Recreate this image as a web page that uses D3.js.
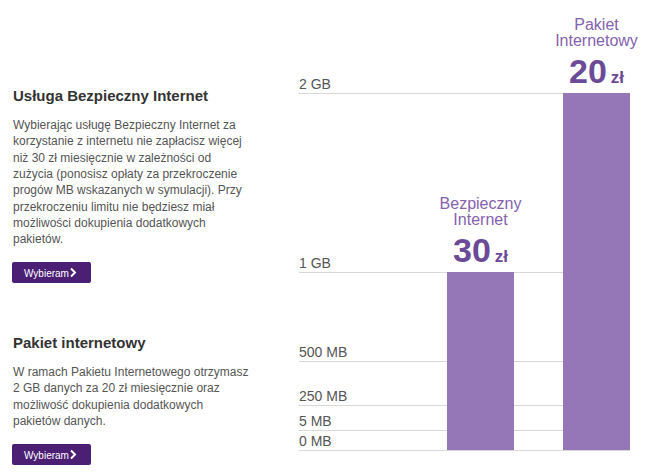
<!DOCTYPE html>
<html><head><meta charset="utf-8">
<script src="https://cdn.jsdelivr.net/npm/d3@7"></script>
<style>body{margin:0;background:#fff;font-family:"Liberation Sans",Arial,sans-serif}</style>
</head><body><svg id="c" width="650" height="476"></svg>
<script>
// data
const tickValues = [0, 5, 250, 500, 1024, 2048];
const tickLabels = ["0 MB", "5 MB", "250 MB", "500 MB", "1 GB", "2 GB"];
const plans = [["Bezpieczny", "Internet"], ["Pakiet", "Internetowy"]];
const prices = ["30", "20"];
const limits = [1024, 2048];

const svg = d3.select("#c");

// piecewise scale, as the original axis is not linear
const y = d3.scaleLinear().domain(tickValues).range([450, 430, 405, 361, 272, 93]);
const x = d3.scaleBand().domain([0, 1]).range([398, 680]).paddingInner(0.42).paddingOuter(0);

svg.selectAll(".grid").data(tickValues).enter().append("line")
        .attr("x1", 299).attr("x2", 630)
        .attr("y1", d => y(d) + 0.5).attr("y2", d => y(d) + 0.5)
        .attr("stroke", "#d8d8d8").attr("stroke-width", 1);

svg.selectAll(".tlab").data(tickValues).enter().append("text")
        .attr("x", 299).attr("y", d => y(d) - 4)
        .attr("font-size", "14px").attr("fill", "#555")
        .text((d, i) => tickLabels[i]);

const bx = i => 447 + i * 116;
svg.selectAll(".bar").data(limits).enter().append("rect")
        .attr("x", (d, i) => bx(i)).attr("width", 67)
        .attr("y", d => y(d)).attr("height", d => y(0) - y(d))
        .attr("fill", "#9577b8");

limits.forEach((d, i) => {
        const cx = bx(i) + 33.5, top = y(d);
        plans[i].forEach((t, j) => {
                svg.append("text").attr("x", cx).attr("y", top - 63 + j * 16)
                        .attr("text-anchor", "middle").attr("font-size", "16px")
                        .attr("fill", "#8462ad").text(t);
        });
        const p = svg.append("text").attr("x", cx).attr("y", top - 10)
                .attr("text-anchor", "middle").attr("fill", "#6b4a98").attr("font-weight", "bold");
        p.append("tspan").attr("font-size", "34px").text(prices[i]);
        p.append("tspan").attr("font-size", "17px").attr("dx", 4).text("zł");
});

// left side text blocks
const blocks = [
        {title: "Usługa Bezpieczny Internet", y: 101, lines: [
                "Wybierając usługę Bezpieczny Internet za",
                "korzystanie z internetu nie zapłacisz więcej",
                "niż 30 zł miesięcznie w zależności od",
                "zużycia (ponosisz opłaty za przekroczenie",
                "progów MB wskazanych w symulacji). Przy",
                "przekroczeniu limitu nie będziesz miał",
                "możliwości dokupienia dodatkowych",
                "pakietów."], btn: 262},
        {title: "Pakiet internetowy", y: 348, lines: [
                "W ramach Pakietu Internetowego otrzymasz",
                "2 GB danych za 20 zł miesięcznie oraz",
                "możliwość dokupienia dodatkowych",
                "pakietów danych."], btn: 444}
];
blocks.forEach(b => {
        svg.append("text").attr("x", 13).attr("y", b.y).attr("font-size", "15px")
                .attr("font-weight", "bold").attr("fill", "#333").text(b.title);
        b.lines.forEach((l, i) => {
                svg.append("text").attr("x", 13).attr("y", b.y + 28 + i * 16.3)
                        .attr("font-size", "12px").attr("fill", "#555").text(l);
        });
        svg.append("rect").attr("x", 12).attr("y", b.btn).attr("width", 79).attr("height", 21)
                .attr("rx", 2).attr("fill", "#4a1f74");
        svg.append("text").attr("x", 24).attr("y", b.btn + 14.5).attr("font-size", "10px")
                .attr("fill", "#fff").text("Wybieram");
        svg.append("path").attr("d", `M71,${b.btn + 6.5} l4,4 l-4,4`)
                .attr("stroke", "#fff").attr("stroke-width", 2).attr("fill", "none");
});
</script></body></html>
